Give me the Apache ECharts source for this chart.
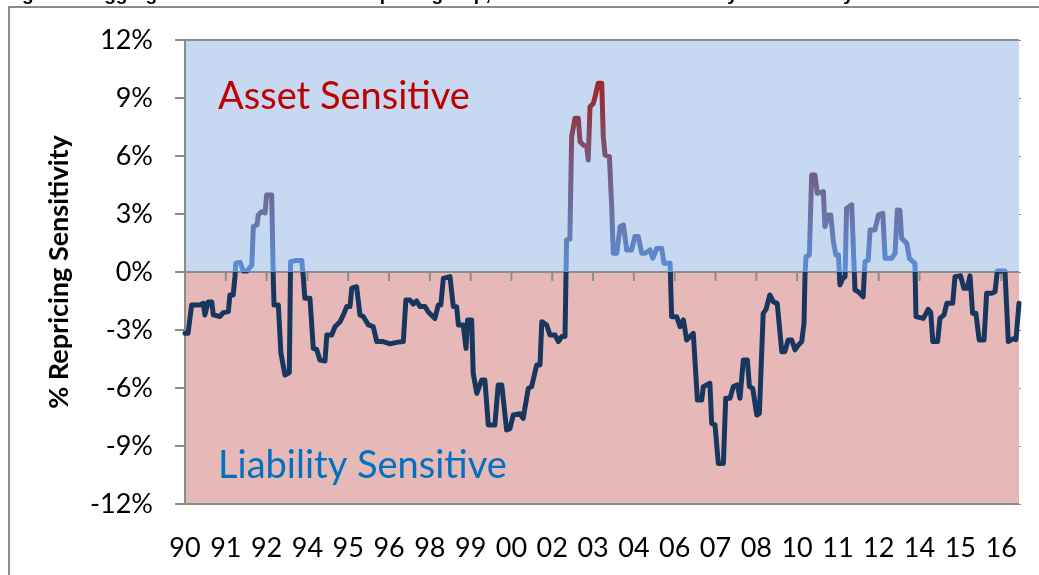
<!DOCTYPE html>
<html>
<head>
<meta charset="utf-8">
<title>Repricing Sensitivity</title>
<script src="https://cdn.jsdelivr.net/npm/echarts@6.0.0/dist/echarts.min.js"></script>
<style>
    body { margin: 0; background: #fff; }
    #chart { width: 1039px; height: 575px; }
</style>
</head>
<body>
<div id="chart"></div>
<script>
    // x = months since Jan 1990, gap = % repricing sensitivity
    const month = [
        0, 1.2, 2.6, 5.9, 7.2, 7.8, 9.1, 10.5, 11.1, 13.7,
        15.0, 17.0, 17.6, 18.9, 19.6, 19.9, 21.6, 22.9, 24.2, 26.2,
        26.8, 28.3, 28.7, 30.1, 31.4, 32.0, 34.0, 34.6, 34.9, 36.6,
        37.6, 39.2, 40.9, 41.4, 43.8, 45.8, 46.4, 47.0, 49.0, 50.3,
        51.6, 52.9, 54.9, 55.6, 57.5, 58.8, 60.8, 62.1, 63.4, 64.7,
        65.4, 67.3, 68.6, 69.9, 71.9, 73.8, 75.2, 77.7, 80.4, 83.0,
        85.6, 86.6, 88.2, 89.5, 90.8, 92.1, 94.1, 95.4, 98.0, 99.3,
        100.3, 101.3, 103.9, 105.2, 106.5, 107.2, 109.1, 110.2, 110.8, 112.4,
        113.0, 114.4, 116.3, 117.6, 118.9, 121.5, 122.8, 124.2, 126.1, 127.4,
        128.7, 131.3, 132.6, 134.6, 135.9, 137.9, 139.2, 139.9, 141.8, 143.1,
        145.1, 146.4, 147.7, 149.0, 149.6, 150.9, 151.6, 152.9, 154.2, 154.9,
        156.2, 157.5, 158.1, 158.8, 160.1, 160.8, 162.0, 163.4, 164.0, 164.7,
        166.4, 167.3, 167.9, 169.3, 170.6, 171.9, 173.2, 175.1, 176.4, 177.7,
        179.1, 180.4, 182.3, 183.4, 184.3, 184.9, 186.9, 187.8, 190.2, 190.8,
        192.8, 194.1, 195.4, 196.7, 199.3, 200.0, 200.9, 202.6, 203.2, 205.8,
        206.5, 207.8, 209.1, 211.1, 212.0, 213.7, 215.0, 216.6, 217.6, 218.9,
        220.5, 221.3, 222.6, 224.2, 225.2, 226.7, 227.8, 229.3, 230.7, 232.2,
        234.0, 235.2, 236.5, 237.9, 239.2, 240.5, 241.8, 242.7, 243.1, 243.5,
        244.8, 245.7, 247.0, 247.9, 250.3, 250.9, 252.2, 253.2, 254.2, 255.2,
        256.2, 256.8, 257.9, 258.8, 259.4, 261.4, 262.0, 262.7, 264.0, 265.9,
        266.6, 267.9, 268.6, 270.5, 271.9, 273.6, 274.5, 277.1, 278.4, 279.3,
        280.3, 281.0, 283.0, 284.0, 286.2, 286.6, 289.5, 291.4, 292.4, 293.2,
        295.1, 296.0, 297.6, 298.7, 301.0, 301.9, 304.1, 305.4, 306.7, 307.8,
        308.8, 310.1, 311.4, 313.3, 314.3, 316.3, 317.6, 318.5, 321.5, 322.8,
        324.8, 325.8, 327.0
    ];
    const gap = [
        -3.17, -3.17, -1.71, -1.71, -1.62, -2.22, -1.55, -1.55, -2.22, -2.3,
        -2.1, -2.05, -1.19, -1.19, -0.24, 0.45, 0.5, 0.05, 0.05, 0.36,
        2.34, 2.45, 2.95, 3.12, 3.05, 3.98, 3.98, -0.24, -1.71, -1.71,
        -4.2, -5.33, -5.2, 0.53, 0.6, 0.6, -0.3, -1.36, -1.36, -3.95,
        -4.0, -4.55, -4.6, -3.26, -3.26, -2.83, -2.57, -2.22, -1.79, -1.79,
        -0.84, -0.76, -2.22, -2.3, -2.74, -2.83, -3.6, -3.6, -3.72, -3.64,
        -3.6, -1.45, -1.45, -1.66, -1.5, -1.78, -1.78, -2.07, -2.4, -1.71,
        -1.71, -0.33, -0.24, -1.78, -1.8, -2.74, -2.74, -3.95, -2.48, -2.48,
        -5.24, -6.28, -5.59, -5.59, -7.91, -7.91, -5.84, -5.84, -8.17, -8.1,
        -7.4, -7.33, -7.57, -6.02, -5.93, -4.81, -4.81, -2.57, -2.74, -3.26,
        -3.26, -3.6, -3.34, -3.34, 1.66, 1.7, 7.0, 7.95, 7.95, 6.74,
        6.57, 6.48, 5.79, 8.55, 8.72, 9.07, 9.76, 9.76, 7.0, 6.05,
        5.97, 3.38, 0.97, 0.97, 2.34, 2.43, 1.14, 1.14, 1.83, 1.83,
        0.97, 0.97, 1.14, 0.71, 0.97, 1.22, 1.22, 0.45, 0.45, -2.31,
        -2.31, -2.83, -2.48, -3.52, -3.17, -3.17, -6.62, -6.62, -5.93, -5.76,
        -7.83, -7.9, -9.9, -9.9, -6.53, -6.53, -5.93, -5.84, -6.53, -4.55,
        -4.55, -5.93, -6.02, -7.4, -7.31, -2.14, -1.93, -1.19, -1.55, -1.62,
        -4.12, -4.12, -3.52, -3.52, -4.03, -3.78, -3.6, -2.66, -0.16, 0.79,
        0.88, 5.02, 5.02, 4.07, 4.16, 2.34, 2.95, 2.95, 1.57, 0.88,
        0.88, -0.67, -0.33, -0.24, 3.29, 3.47, 3.47, -0.93, -1.02, -1.28,
        0.53, 0.62, 2.17, 2.17, 2.95, 3.03, 0.71, 0.71, 0.97, 3.21,
        3.2, 1.74, 1.48, 0.71, 0.45, -2.31, -2.4, -1.93, -2.1, -3.6,
        -3.6, -2.4, -2.22, -1.62, -1.62, -0.24, -0.2, -0.84, -0.84, -0.2,
        -2.14, -2.14, -3.52, -3.52, -1.1, -1.1, -1.02, 0.05, 0.05, -3.6,
        -3.45, -3.5, -1.62
    ];
    // one label every 16 months, starting Jan 1990
    const tickLabels = ['90', '91', '92', '94', '95', '96', '98', '99', '00', '02', '03',
                        '04', '06', '07', '08', '10', '11', '12', '14', '15', '16'];
    const labelStep = 16;
    const lastMonth = 327;

    const tickValues = tickLabels.map((t, i) => i * labelStep);
    const points = month.map((m, i) => [m, gap[i]]);

    const chart = echarts.init(document.getElementById('chart'));
    const grey = '#8c8c8c';
    const font = 'Lato, "DejaVu Sans", sans-serif';
    const pink = '#e6b9b8', blue = '#c6d9f1';

    const staticGraphics = [
        {
            type: 'rect',
            shape: {x: 9, y: 7, width: 1100, height: 700},
            style: {fill: 'none', stroke: grey, lineWidth: 2},
            silent: true
        },
        {
            type: 'text',
            left: 218,
            top: 78,
            z: 10,
            style: {text: 'Asset Sensitive', fill: '#c00000', font: '38px Lato, sans-serif'}
        },
        {
            type: 'text',
            left: 218,
            top: 447,
            z: 10,
            style: {text: 'Liability Sensitive', fill: '#0070c0', font: '38px Lato, sans-serif'}
        }
    ];

    const option = {
        animation: false,
        title: {
            text: 'Figure 1: Aggregate Commercial Bank Repricing Gap, Asset Sensitive or Liability Sensitive by Year',
            left: 0,
            top: -20,
            textStyle: {fontFamily: 'Liberation Sans, Arial', fontWeight: 'bold', fontSize: 19, color: '#000'}
        },
        grid: {left: 185, right: 20, top: 40, bottom: 71, outerBoundsMode: 'none'},
        xAxis: {
            type: 'value',
            min: 0,
            max: lastMonth,
            interval: labelStep,
            axisLine: {show: false},
            axisTick: {show: false},
            splitLine: {show: false},
            axisLabel: {
                margin: 31,
                showMaxLabel: false,
                fontFamily: font,
                fontSize: 27,
                color: '#000',
                formatter: v => (v % labelStep === 0 && tickLabels[v / labelStep]) || ''
            }
        },
        yAxis: [
            {
                type: 'value',
                min: -12,
                max: 12,
                interval: 3,
                name: '% Repricing Sensitivity',
                nameLocation: 'middle',
                nameGap: 112,
                nameTextStyle: {fontFamily: font, fontWeight: 'bold', fontSize: 27, color: '#000'},
                axisLine: {show: true, lineStyle: {color: grey, width: 2}},
                axisTick: {show: true, length: 10, lineStyle: {color: grey, width: 2}},
                splitLine: {show: false},
                // four bands below zero pink, four above blue
                splitArea: {show: true, areaStyle: {color: [pink, pink, pink, pink, blue, blue, blue, blue]}},
                axisLabel: {margin: 32, fontFamily: font, fontSize: 27, color: '#000', formatter: '{value}%'}
            },
            {
                type: 'value',
                position: 'right',
                min: -12,
                max: 12,
                interval: 3,
                axisLine: {show: false},
                axisTick: {show: true, length: 2, lineStyle: {color: grey}},
                axisLabel: {show: false},
                splitLine: {show: false}
            }
        ],
        // navy below zero, light blue -> dark red above zero
        visualMap: {
            show: false,
            type: 'continuous',
            seriesIndex: 0,
            dimension: 1,
            min: -12,
            max: 12,
            range: [0, 12],
            inRange: {color: ['#5b8fd6', '#5b8fd6', '#5b8fd6', '#5b8fd6', '#5b8fd6', '#6973a6', '#7a5679', '#962f35', '#a81c1c']},
            outOfRange: {color: '#17375e'}
        },
        series: [
            {
                name: '% Repricing Sensitivity',
                type: 'line',
                z: 10,
                data: points,
                showSymbol: false,
                lineStyle: {width: 5, cap: 'round', join: 'round'},
                markLine: {
                    silent: true,
                    symbol: 'none',
                    label: {show: false},
                    lineStyle: {color: grey, type: 'solid', width: 2},
                    data: [{yAxis: 12}, {yAxis: -12}]
                }
            }
        ],
        graphic: staticGraphics
    };
    chart.setOption(option);

    // zero line with its tick marks, placed through the chart's own scales
    const toPx = p => chart.convertToPixel({gridIndex: 0}, p);
    const zeroStart = toPx([0, 0]);
    const zeroEnd = toPx([lastMonth, 0]);
    const guides = [{
        type: 'line',
        z: 5,
        silent: true,
        shape: {x1: zeroStart[0], y1: zeroStart[1], x2: zeroEnd[0], y2: zeroEnd[1]},
        style: {stroke: grey, lineWidth: 2}
    }].concat(tickValues.map(v => {
        const p = toPx([v, 0]);
        return {
            type: 'line',
            z: 5,
            silent: true,
            shape: {x1: p[0], y1: p[1], x2: p[0], y2: p[1] + 9},
            style: {stroke: grey, lineWidth: 2}
        };
    }));
    chart.setOption({graphic: staticGraphics.concat(guides)}, {replaceMerge: ['graphic']});
</script>
</body>
</html>
